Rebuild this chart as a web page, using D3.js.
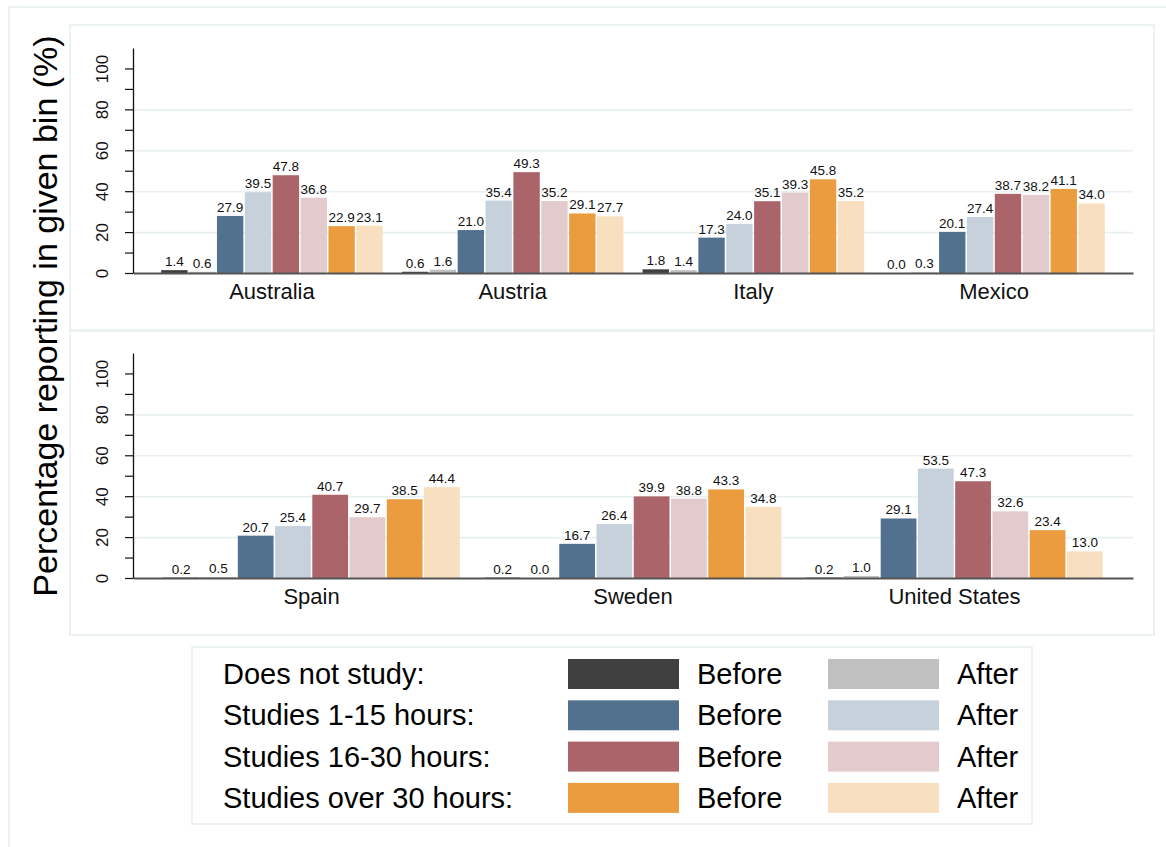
<!DOCTYPE html>
<html>
<head>
<meta charset="utf-8">
<script src="https://cdn.jsdelivr.net/npm/d3@7"></script>
<style>
  body { margin: 0; background: #fff; }
  svg { display: block; font-family: "Liberation Sans", Arial, sans-serif; }
</style>
</head>
<body>
<div id="chart"></div>
<script>
const countries = ['Australia', 'Austria', 'Italy', 'Mexico', 'Spain', 'Sweden', 'United States'];
const topCountries = ['Australia', 'Austria', 'Italy', 'Mexico'];
const bottomCountries = ['Spain', 'Sweden', 'United States'];

// one array per bar series, in the order of countries
const noneBefore = [1.4, 0.6, 1.8, 0.0, 0.2, 0.2, 0.2];
const noneAfter = [0.6, 1.6, 1.4, 0.3, 0.5, 0.0, 1.0];
const low15Before = [27.9, 21.0, 17.3, 20.1, 20.7, 16.7, 29.1];
const low15After = [39.5, 35.4, 24.0, 27.4, 25.4, 26.4, 53.5];
const mid30Before = [47.8, 49.3, 35.1, 38.7, 40.7, 39.9, 47.3];
const mid30After = [36.8, 35.2, 39.3, 38.2, 29.7, 38.8, 32.6];
const over30Before = [22.9, 29.1, 45.8, 41.1, 38.5, 43.3, 23.4];
const over30After = [23.1, 27.7, 35.2, 34.0, 44.4, 34.8, 13.0];

const yTicks = [0, 20, 40, 60, 80, 100];
const yMinorTicks = [10, 30, 50, 70, 90];
const gridTicks = [20, 40, 60, 80];

const groupLabels = ['Does not study:', 'Studies 1-15 hours:', 'Studies 16-30 hours:', 'Studies over 30 hours:'];
const beforeColors = ['#404040', '#52718f', '#ab6469', '#ea9c3e'];
const afterColors = ['#c0c0c0', '#c6d1db', '#e3cbcd', '#f7dfbf'];

const series = [
  { key: 'noneBefore', values: noneBefore, color: beforeColors[0] },
  { key: 'noneAfter', values: noneAfter, color: afterColors[0] },
  { key: 'low15Before', values: low15Before, color: beforeColors[1] },
  { key: 'low15After', values: low15After, color: afterColors[1] },
  { key: 'mid30Before', values: mid30Before, color: beforeColors[2] },
  { key: 'mid30After', values: mid30After, color: afterColors[2] },
  { key: 'over30Before', values: over30Before, color: beforeColors[3] },
  { key: 'over30After', values: over30After, color: afterColors[3] },
];

const width = 1166;
const height = 847;
const frame = '#e7eef0';
const fontFamily = '"Liberation Sans", Arial, sans-serif';
const fmt = d3.format('.1f');

const svg = d3.select('#chart').append('svg')
  .attr('width', width)
  .attr('height', height);

svg.append('rect').attr('width', width).attr('height', height).attr('fill', '#fff');

// outer graph region border (runs off the right and bottom edges)
svg.append('rect')
  .attr('x', 9).attr('y', 7)
  .attr('width', 1180).attr('height', 860)
  .attr('fill', 'none').attr('stroke', frame).attr('stroke-width', 1.5);

const panels = [
  { names: topCountries, box: [70, 25, 1084, 305], y0: 273, y1: 48, padIn: 0.0735, padOut: 0.114 },
  { names: bottomCountries, box: [70, 331, 1084, 304], y0: 578, y1: 353, padIn: 0.073, padOut: 0.092 },
];

const xLeft = 133;
const xRight = 1133;

panels.forEach((p) => {
  svg.append('rect')
    .attr('x', p.box[0]).attr('y', p.box[1])
    .attr('width', p.box[2]).attr('height', p.box[3])
    .attr('fill', 'none').attr('stroke', frame).attr('stroke-width', 1.5);

  const y = d3.scaleLinear().domain([0, 110]).range([p.y0, p.y1]);
  const x = d3.scaleBand()
    .domain(p.names)
    .range([xLeft, xRight])
    .paddingInner(p.padIn)
    .paddingOuter(p.padOut);
  const inner = d3.scaleBand()
    .domain(series.map(s => s.key))
    .range([0, x.bandwidth()]);

  // grid
  const grid = svg.append('g')
    .attr('transform', `translate(${xLeft},0)`)
    .call(d3.axisLeft(y).tickValues(gridTicks).tickSize(-(xRight - xLeft)).tickFormat(''));
  grid.select('.domain').remove();
  grid.selectAll('line').attr('stroke', '#e8f0f2').attr('stroke-width', 1.6);

  // bars
  const rows = p.names.map((name) => {
    const i = countries.indexOf(name);
    return series.map(s => ({ country: name, key: s.key, value: s.values[i], color: s.color }));
  });

  const groups = svg.selectAll(null)
    .data(rows)
    .enter().append('g')
    .attr('transform', d => `translate(${x(d[0].country)},0)`);

  groups.selectAll('rect')
    .data(d => d)
    .enter().append('rect')
    .attr('x', d => inner(d.key) + 0.75)
    .attr('width', inner.bandwidth() - 1.5)
    .attr('y', d => y(d.value))
    .attr('height', d => y(0) - y(d.value))
    .attr('fill', d => d.color);

  groups.selectAll('text')
    .data(d => d)
    .enter().append('text')
    .attr('x', d => inner(d.key) + inner.bandwidth() / 2)
    .attr('y', d => y(d.value) - 4)
    .attr('text-anchor', 'middle')
    .attr('font-size', 13.5)
    .attr('fill', '#111')
    .text(d => fmt(d.value));

  // x axis
  const xAxis = svg.append('g')
    .attr('transform', `translate(0,${p.y0})`)
    .call(d3.axisBottom(x).tickSize(0).tickPadding(10));
  xAxis.select('.domain').attr('stroke', '#555').attr('stroke-width', 2);
  xAxis.selectAll('text').attr('font-size', 22).attr('fill', '#111')
    .attr('font-family', fontFamily);

  // y axis, minor ticks first
  const minor = svg.append('g')
    .attr('transform', `translate(${xLeft},0)`)
    .call(d3.axisLeft(y).tickValues(yMinorTicks).tickSize(8).tickFormat(''));
  minor.select('.domain').remove();
  minor.selectAll('line').attr('stroke', '#111').attr('stroke-width', 1.2);

  const yAxis = svg.append('g')
    .attr('transform', `translate(${xLeft},0)`)
    .call(d3.axisLeft(y).tickValues(yTicks).tickSize(8).tickSizeOuter(0));
  yAxis.attr('font-size', null).attr('font-family', null);
  yAxis.select('.domain').attr('stroke', '#111').attr('stroke-width', 1.3);
  yAxis.selectAll('line').attr('stroke', '#111').attr('stroke-width', 1.2);
  yAxis.selectAll('text')
    .attr('x', 0)
    .attr('dy', 0)
    .attr('text-anchor', 'middle')
    .attr('transform', 'translate(-25,0) rotate(-90)')
    .style('font-size', '17px')
    .attr('fill', '#111')
    .attr('font-family', fontFamily);
});

// y axis title
svg.append('text')
  .attr('transform', 'translate(57,316) rotate(-90)')
  .attr('text-anchor', 'middle')
  .attr('font-size', 34)
  .attr('fill', '#000')
  .text('Percentage reporting in given bin (%)');

// legend
svg.append('rect')
  .attr('x', 192).attr('y', 647)
  .attr('width', 840).attr('height', 177)
  .attr('fill', '#fff').attr('stroke', frame).attr('stroke-width', 1.5);

const legend = svg.selectAll('.legend')
  .data(groupLabels)
  .enter().append('g')
  .attr('class', 'legend')
  .attr('transform', (d, i) => `translate(0,${659 + i * 41.3})`);

legend.append('text')
  .attr('x', 223).attr('y', 25)
  .attr('font-size', 29)
  .attr('fill', '#000')
  .text(d => d);

legend.append('rect')
  .attr('x', 568).attr('width', 111).attr('height', 30)
  .attr('fill', (d, i) => beforeColors[i]);

legend.append('text')
  .attr('x', 697).attr('y', 25)
  .attr('font-size', 29)
  .attr('fill', '#000')
  .text('Before');

legend.append('rect')
  .attr('x', 828).attr('width', 111).attr('height', 30)
  .attr('fill', (d, i) => afterColors[i]);

legend.append('text')
  .attr('x', 957).attr('y', 25)
  .attr('font-size', 29)
  .attr('fill', '#000')
  .text('After');
</script>
</body>
</html>
